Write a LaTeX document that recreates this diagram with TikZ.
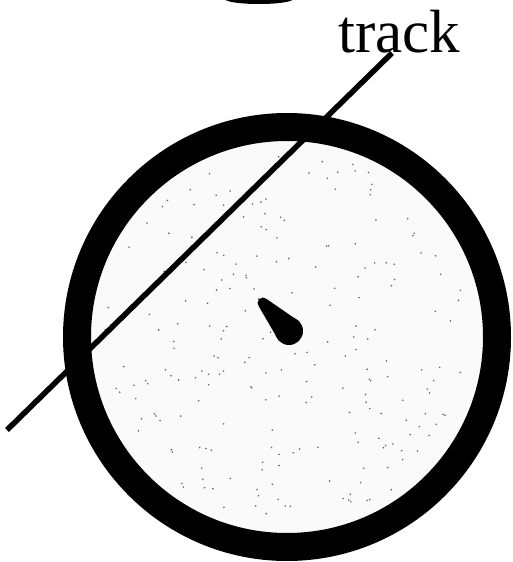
\documentclass[tikz,border=0pt]{standalone}
\usepackage{fontspec}
\setmainfont{Liberation Serif}
\usetikzlibrary{calc}
\begin{document}
\begin{tikzpicture}
  [x=1pt,y=-1pt,ring/.style={draw=black,line width=28pt},
   speck/.style={fill=black!60},label/.style={inner sep=0pt,anchor=base,font=\fontsize{61}{61}\selectfont}]
  \useasboundingbox (0,0) rectangle (513,562);
  % light speckled inside
  \fill[black!2] (287,337) circle (197);
  \pgfmathsetseed{7}
  \foreach \i in {1,...,220}{
    \pgfmathsetmacro{\ang}{360*rnd}
    \pgfmathsetmacro{\rad}{185*sqrt(rnd)}
    \fill[speck] ($(287,337)+(\ang:\rad)$) circle (0.9);
  }
  % bit of the upper body
  \fill (225,-1) arc (180:0:34 and 5) -- cycle;
  % ring
  \draw[ring] (287,337) circle (210);
  % pointer in the middle
  \coordinate (head) at (263,303);
  \coordinate (bulb) at (289,331);
  \fill (head) circle (5.5);
  \fill (bulb) circle (14);
  \fill (259,306.7) -- (267,299.3) -- (299.3,321.5) -- (278.7,340.5) -- cycle;
  % track
  \node[label] (track) at (399,52) {track};
  \coordinate (tracktip) at (392,53);
  \coordinate (trackend) at (7,430);
  \draw[line width=5.5pt] (trackend) -- (tracktip);
\end{tikzpicture}
\end{document}
